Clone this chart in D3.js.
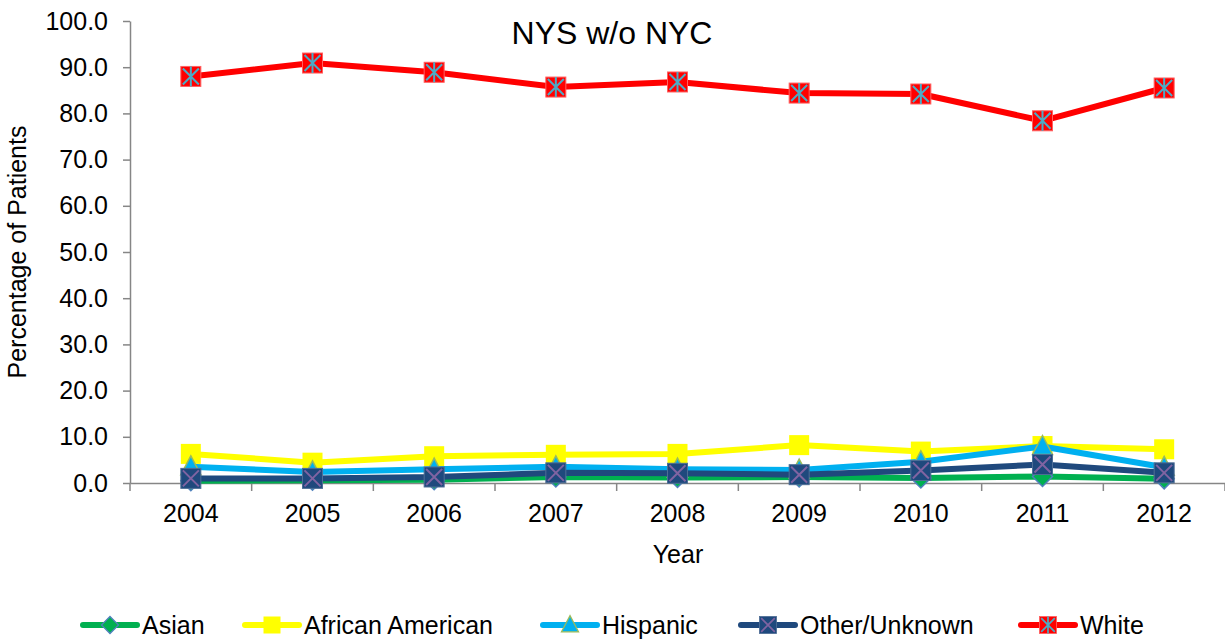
<!DOCTYPE html>
<html>
<head>
<meta charset="utf-8">
<script src="https://cdn.jsdelivr.net/npm/d3@7"></script>
<style>
  body { margin: 0; background: #fff; }
  text { font-family: "Liberation Sans", Arial, sans-serif; fill: #000; }
</style>
</head>
<body>
<svg width="1225" height="639"></svg>
<script>
const years = ["2004", "2005", "2006", "2007", "2008", "2009", "2010", "2011", "2012"];
const asian = [0.5, 0.6, 0.7, 1.3, 1.2, 1.3, 1.1, 1.4, 0.9];
const africanAmerican = [6.3, 4.4, 5.8, 6.1, 6.3, 8.2, 6.8, 8.0, 7.3];
const hispanic = [3.5, 2.4, 3.0, 3.5, 3.0, 2.8, 4.6, 7.9, 3.4];
const otherUnknown = [1.0, 1.0, 1.3, 2.2, 2.1, 1.8, 2.7, 4.0, 2.2];
const white = [88.0, 90.9, 88.9, 85.7, 86.8, 84.4, 84.2, 78.4, 85.5];
const yTicks = [0, 10, 20, 30, 40, 50, 60, 70, 80, 90, 100];

const series = [
  {name: "Asian", values: asian, color: "#00B050", marker: "diamond"},
  {name: "African American", values: africanAmerican, color: "#FFFF00", marker: "square"},
  {name: "Hispanic", values: hispanic, color: "#00B0F0", marker: "triangle"},
  {name: "Other/Unknown", values: otherUnknown, color: "#1F497D", marker: "xsquare"},
  {name: "White", values: white, color: "#FF0000", marker: "star"}
];

const svg = d3.select("svg");
const plotLeft = 130, plotRight = 1225, plotTop = 21, plotBottom = 483;

const x = d3.scaleBand().domain(years).range([plotLeft, plotRight]).padding(0);
const y = d3.scaleLinear().domain([0, 100]).range([plotBottom, plotTop]);

// y axis
const yAxis = d3.axisLeft(y).tickValues(yTicks).tickFormat(d3.format(".1f"))
  .tickSize(7).tickSizeOuter(0).tickPadding(15);
const gy = svg.append("g").attr("transform", `translate(${plotLeft},0)`).call(yAxis);
gy.select(".domain").attr("stroke", "#868686").attr("stroke-width", 1.5);
gy.selectAll(".tick line").attr("stroke", "#868686").attr("stroke-width", 1.5);
gy.selectAll(".tick text").style("font-size", "25px").attr("fill", "#000");

// x axis
const xAxis = d3.axisBottom(x).tickSize(0).tickSizeOuter(0).tickPadding(21);
const gx = svg.append("g").attr("transform", `translate(0,${plotBottom})`).call(xAxis);
gx.select(".domain").attr("stroke", "#868686").attr("stroke-width", 1.5);
gx.selectAll(".tick text").style("font-size", "25px").attr("fill", "#000");
const edges = years.map(d => x(d)).concat([x(years[years.length - 1]) + x.bandwidth()]);
gx.selectAll(".edge").data(edges).join("line")
  .attr("x1", d => d).attr("x2", d => d)
  .attr("y1", 0).attr("y2", 8)
  .attr("stroke", "#868686").attr("stroke-width", 1.5);

// titles
svg.append("text").attr("x", 612).attr("y", 44).attr("text-anchor", "middle")
  .style("font-size", "32px").text("NYS w/o NYC");
svg.append("text").attr("x", 678).attr("y", 563).attr("text-anchor", "middle")
  .style("font-size", "25px").text("Year");
svg.append("text").attr("transform", "translate(26,252) rotate(-90)")
  .attr("text-anchor", "middle").style("font-size", "25px").text("Percentage of Patients");

function drawMarker(g, type, color) {
  if (type === "diamond") {
    g.append("path").attr("d", "M0,-10L10,0L0,10L-10,0Z")
      .attr("fill", color).attr("stroke", "#4F81BD").attr("stroke-width", 1.5);
  } else if (type === "square") {
    g.append("rect").attr("x", -10).attr("y", -10).attr("width", 20).attr("height", 20)
      .attr("fill", color);
  } else if (type === "triangle") {
    g.append("path").attr("d", "M0,-11L10,8L-10,8Z")
      .attr("fill", color).attr("stroke", "#9BBB59").attr("stroke-width", 1.5);
  } else if (type === "xsquare") {
    g.append("rect").attr("x", -10).attr("y", -10).attr("width", 20).attr("height", 20)
      .attr("fill", color).attr("stroke", "#4F6E96").attr("stroke-width", 1);
    g.append("path").attr("d", "M-8,-8L8,8M-8,8L8,-8")
      .attr("stroke", "#8064A2").attr("stroke-width", 2).attr("fill", "none");
  } else if (type === "star") {
    g.append("rect").attr("x", -10).attr("y", -10).attr("width", 20).attr("height", 20)
      .attr("fill", color).attr("stroke", "#FF6060").attr("stroke-width", 1);
    g.append("path").attr("d", "M-8,-8L8,8M-8,8L8,-8M0,-10L0,10")
      .attr("stroke", "#4BACC6").attr("stroke-width", 2).attr("fill", "none");
  }
}

const line = d3.line()
  .x((d, i) => x(years[i]) + x.bandwidth() / 2)
  .y(d => y(d));

series.forEach(s => {
  const g = svg.append("g");
  g.append("path").attr("d", line(s.values))
    .attr("fill", "none").attr("stroke", s.color).attr("stroke-width", 6)
    .attr("stroke-linejoin", "round");
  s.values.forEach((v, i) => {
    const m = g.append("g")
      .attr("transform", `translate(${x(years[i]) + x.bandwidth() / 2},${y(v)})`);
    drawMarker(m, s.marker, s.color);
  });
});

// legend
const legendX = [83, 245, 543, 741, 1021];
const legendY = 625;
series.forEach((s, i) => {
  const g = svg.append("g").attr("transform", `translate(${legendX[i]},${legendY})`);
  g.append("line").attr("x1", 0).attr("x2", 54).attr("y1", 0).attr("y2", 0)
    .attr("stroke", s.color).attr("stroke-width", 6).attr("stroke-linecap", "round");
  const m = g.append("g").attr("transform", "translate(27,0) scale(0.85)");
  drawMarker(m, s.marker, s.color);
  g.append("text").attr("x", 59).attr("y", 9).style("font-size", "25px").text(s.name);
});
</script>
</body>
</html>
